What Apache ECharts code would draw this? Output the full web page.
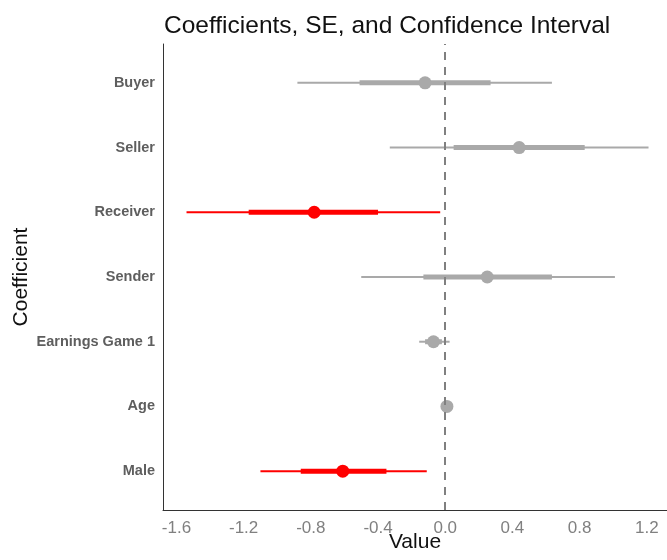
<!DOCTYPE html>
<html>
<head>
<meta charset="utf-8">
<script src="https://cdn.jsdelivr.net/npm/echarts@6/dist/echarts.min.js"></script>
<style>html,body{margin:0;padding:0;background:#fff;}#c{width:667px;height:560px;}</style>
</head>
<body>
<div id="c"></div>
<script>
// Data (top to bottom as shown)
const coefficients = ['Buyer', 'Seller', 'Receiver', 'Sender', 'Earnings Game 1', 'Age', 'Male'];
const estimates = [-0.12, 0.44, -0.78, 0.25, -0.07, 0.01, -0.61];
const seLow  = [-0.51, 0.05, -1.17, -0.13, -0.12, 0.005, -0.86];
const seHigh = [0.27, 0.83, -0.40, 0.635, -0.02, 0.015, -0.35];
const ciLow  = [-0.88, -0.33, -1.54, -0.50, -0.155, 0.0, -1.10];
const ciHigh = [0.635, 1.21, -0.03, 1.01, 0.026, 0.02, -0.11];
const significant = [false, false, true, false, false, false, true];
const xTicks = [-1.6, -1.2, -0.8, -0.4, 0.0, 0.4, 0.8, 1.2];
const yPositions = coefficients.map((_, i) => coefficients.length - i);

const rows = coefficients.map((c, i) => [estimates[i], yPositions[i], seLow[i], seHigh[i], ciLow[i], ciHigh[i], significant[i] ? 1 : 0]);

const FONT = 'Liberation Sans, Arial, sans-serif';
const chart = echarts.init(document.getElementById('c'), null, {renderer: 'canvas'});
chart.setOption({
  animation: false,
  backgroundColor: '#ffffff',
  title: {
    text: 'Coefficients, SE, and Confidence Interval',
    left: 164, top: 14, padding: 0,
    textStyle: {fontFamily: FONT, fontSize: 24.5, fontWeight: 'normal', color: '#111'}
  },
  grid: {left: 163, right: 0, top: 44, bottom: 50, containLabel: false, outerBoundsMode: 'none'},
  xAxis: {
    type: 'value', min: -1.68, max: 1.32,
    name: 'Value', nameLocation: 'middle', nameGap: 22, nameMoveOverlap: false,
    nameTextStyle: {fontFamily: FONT, fontSize: 21, color: '#111'},
    axisLine: {show: true, onZero: false, lineStyle: {color: '#333', width: 1}},
    axisTick: {show: false},
    splitLine: {show: false},
    axisLabel: {
      customValues: xTicks,
      formatter: v => Number(v).toFixed(1),
      fontFamily: FONT, fontSize: 17, color: '#808080', margin: 10
    }
  },
  yAxis: {
    type: 'value', min: 0.4, max: 7.6,
    name: 'Coefficient', nameLocation: 'middle', nameGap: 131, nameMoveOverlap: false,
    nameTextStyle: {fontFamily: FONT, fontSize: 21, color: '#111'},
    axisLine: {show: true, onZero: false, lineStyle: {color: '#333', width: 1}},
    axisTick: {show: false},
    splitLine: {show: false},
    axisLabel: {
      customValues: yPositions,
      formatter: v => coefficients[coefficients.length - Math.round(v)],
      fontFamily: FONT, fontSize: 14.5, fontWeight: 'bold', color: '#5e5e5e', margin: 8
    }
  },
  series: [
    {
      type: 'custom',
      z: 2,
      data: rows,
      encode: {x: 0, y: 1},
      renderItem: function (params, api) {
        const y = api.value(1);
        const est = api.coord([api.value(0), y]);
        const se0 = api.coord([api.value(2), y]);
        const se1 = api.coord([api.value(3), y]);
        const ci0 = api.coord([api.value(4), y]);
        const ci1 = api.coord([api.value(5), y]);
        const color = api.value(6) ? '#ff0000' : '#a9a9a9';
        return {
          type: 'group',
          children: [
            {type: 'line', shape: {x1: ci0[0], y1: ci0[1], x2: ci1[0], y2: ci1[1]}, style: {stroke: color, lineWidth: 2}},
            {type: 'line', shape: {x1: se0[0], y1: se0[1], x2: se1[0], y2: se1[1]}, style: {stroke: color, lineWidth: 5}},
            {type: 'circle', shape: {cx: est[0], cy: est[1], r: 6.5}, style: {fill: color}}
          ]
        };
      }
    },
    {
      type: 'line',
      z: 5,
      data: [],
      markLine: {
        silent: true,
        symbol: 'none',
        label: {show: false},
        lineStyle: {color: '#808080', type: [8, 7], width: 2},
        data: [{xAxis: 0}]
      }
    }
  ]
});
</script>
</body>
</html>
